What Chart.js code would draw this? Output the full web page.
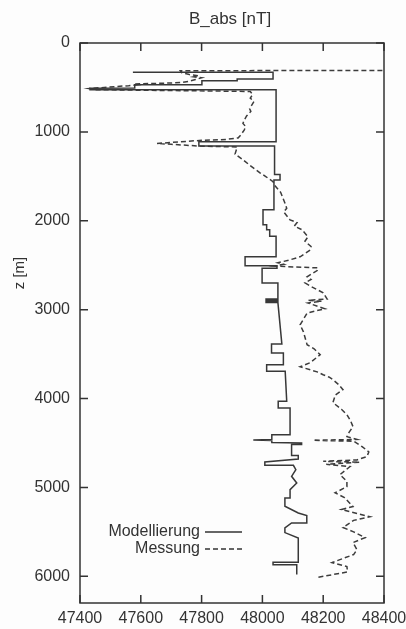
<!DOCTYPE html>
<html>
<head>
<meta charset="utf-8">
<script src="https://cdn.jsdelivr.net/npm/chart.js@4/dist/chart.umd.min.js"></script>
<style>
  html, body { margin: 0; padding: 0; background: #fdfdfd; }
  #wrap { width: 406px; height: 629px; }
</style>
</head>
<body>
<div id="wrap"><canvas id="grafica" width="406" height="629"></canvas></div>
<script>
// Modellierung (solid step profile): B [nT] vs depth z [m]
const modelB = [47574, 48035, 48035, 47917, 47917, 47801, 47801, 47580, 47580, 47433, 47433, 48045,
  48045, 47791, 47791, 48040, 48040, 48058, 48058, 48038, 48038, 48002, 48002, 48014, 48014, 48024,
  48024, 48045, 48045, 47943, 47943, 48048, 48048, 47999, 47999, 48051, 48051, 48012, 48012, 48051,
  48051, 48012, 48012, 48051, 48064, 48030, 48030, 48069, 48069, 48014, 48014, 48075, 48080, 48052,
  48052, 48091, 48091, 48031, 48031, 47970, 48031, 48031, 48129, 48129, 48096, 48096, 48118, 48118,
  48008, 48008, 48102, 48110, 48096, 48113, 48091, 48091, 48074, 48074, 48118, 48146, 48146, 48096,
  48074, 48074, 48118, 48118, 48035, 48035, 48113, 48113];
const modelZ = [330, 330, 405, 405, 425, 425, 470, 470, 505, 510, 525, 525,
  1110, 1110, 1160, 1160, 1480, 1480, 1540, 1540, 1875, 1875, 2045, 2045, 2100, 2100,
  2175, 2175, 2405, 2405, 2505, 2505, 2535, 2535, 2700, 2700, 2880, 2880, 2893, 2893,
  2905, 2905, 2920, 2920, 3387, 3387, 3488, 3488, 3619, 3619, 3694, 3694, 4031, 4031,
  4106, 4106, 4406, 4406, 4462, 4466, 4472, 4495, 4500, 4518, 4518, 4642, 4642, 4680,
  4713, 4751, 4751, 4800, 4875, 4950, 5025, 5118, 5118, 5212, 5287, 5317, 5399, 5399,
  5456, 5508, 5568, 5841, 5841, 5871, 5871, 5980];

// Messung (dashed measured profile)
const messB = [48500, 47730, 47735, 47760, 47790, 47775, 47800, 47780, 47760, 47735, 47650, 47580,
  47590, 47560, 47480, 47430, 47450, 47700, 47960, 47968, 47960, 47972, 47965, 47958, 47962, 47948,
  47940, 47936, 47945, 47940, 47930, 47920, 47880, 47800, 47653, 47700, 47795, 47917, 47910, 47935,
  47960, 47992, 48010, 48035, 48040, 48060, 48074, 48080, 48070, 48091, 48114, 48105, 48130, 48150,
  48140, 48160, 48157, 48124, 48090, 48051, 48070, 48040, 48183, 48180, 48147, 48160, 48140, 48160,
  48200, 48213, 48150, 48195, 48150, 48206, 48180, 48147, 48124, 48135, 48147, 48170, 48190, 48157,
  48124, 48180, 48200, 48220, 48232, 48250, 48265, 48240, 48232, 48260, 48278, 48290, 48298, 48285,
  48278, 48310, 48167, 48300, 48328, 48350, 48344, 48311, 48200, 48320, 48210, 48288, 48255, 48278,
  48278, 48239, 48270, 48298, 48260, 48354, 48300, 48265, 48300, 48338, 48298, 48311, 48300, 48229,
  48278, 48280, 48180];
const messZ = [308, 312, 335, 355, 370, 380, 392, 410, 430, 445, 455, 460,
  470, 480, 500, 512, 525, 535, 545, 580, 620, 660, 700, 740, 770, 820,
  870, 905, 940, 980, 1030, 1068, 1085, 1095, 1130, 1140, 1160, 1170, 1250, 1310,
  1380, 1460, 1500, 1560, 1600, 1680, 1800, 1860, 1900, 1990, 2020, 2060, 2100, 2180,
  2230, 2290, 2330, 2405, 2440, 2473, 2490, 2510, 2530, 2560, 2630, 2660, 2698, 2740,
  2810, 2880, 2895, 2905, 2925, 2990, 3010, 3040, 3170, 3250, 3394, 3440, 3507, 3597,
  3642, 3700, 3732, 3760, 3788, 3840, 3900, 3960, 4046, 4120, 4181, 4250, 4316, 4380,
  4428, 4460, 4470, 4480, 4541, 4600, 4653, 4690, 4706, 4716, 4740, 4766, 4856, 4930,
  4991, 5060, 5114, 5215, 5249, 5330, 5370, 5451, 5500, 5564, 5620, 5700, 5755, 5845,
  5890, 5950, 6013];

const xTicks = [47400, 47600, 47800, 48000, 48200, 48400];
const yTicks = [0, 1000, 2000, 3000, 4000, 5000, 6000];
const seriesNames = ["Modellierung", "Messung"];

const ink = "#333";
const font = "'Liberation Sans', Arial, sans-serif";

function pts(xs, ys) {
    return xs.map((x, i) => ({ x: x, y: ys[i] }));
}

// gnuplot-like frame, inward ticks, labels and key
const gnuplotLook = {
    id: "gnuplotLook",
    afterDraw(chart) {
        const c = chart.ctx;
        const a = chart.chartArea;
        const sx = chart.scales.x, sy = chart.scales.y;
        c.save();
        c.strokeStyle = ink;
        c.lineWidth = 1.5;
        c.strokeRect(a.left, a.top, a.right - a.left, a.bottom - a.top);
        c.beginPath();
        xTicks.forEach(v => {
            const p = sx.getPixelForValue(v);
            c.moveTo(p, a.bottom); c.lineTo(p, a.bottom - 8);
            c.moveTo(p, a.top); c.lineTo(p, a.top + 8);
        });
        yTicks.forEach(v => {
            const p = sy.getPixelForValue(v);
            c.moveTo(a.left, p); c.lineTo(a.left + 8, p);
            c.moveTo(a.right, p); c.lineTo(a.right - 8, p);
        });
        c.stroke();

        c.fillStyle = ink;
        c.font = "17px " + font;
        c.textAlign = "center";
        c.textBaseline = "middle";
        c.fillText("B_abs [nT]", (a.left + a.right) / 2 - 2, 19);

        c.save();
        c.translate(20, 273);
        c.rotate(-Math.PI / 2);
        c.font = "15px " + font;
        c.fillText("z [m]", 0, 0);
        c.restore();

        // key
        const kx = a.left + 120;
        const ky = [a.top + 489, a.top + 506];
        c.textAlign = "right";
        c.font = "16px " + font;
        seriesNames.forEach((name, i) => {
            c.fillText(name, kx, ky[i]);
            const ds = chart.data.datasets[i];
            c.beginPath();
            c.lineWidth = ds.borderWidth;
            c.setLineDash(ds.borderDash || []);
            c.moveTo(kx + 5, ky[i]);
            c.lineTo(kx + 42, ky[i]);
            c.stroke();
        });
        c.restore();
    }
};

const ctx = document.getElementById("grafica").getContext("2d");
const chart = new Chart(ctx, {
    type: "scatter",
    data: {
        datasets: [{
            label: seriesNames[0],
            data: pts(modelB, modelZ),
            showLine: true,
            borderColor: "#383838",
            borderWidth: 1.5,
            pointRadius: 0,
            tension: 0
        },
        {
            label: seriesNames[1],
            data: pts(messB, messZ),
            showLine: true,
            borderColor: "#3c3c3c",
            borderWidth: 1.5,
            borderDash: [5, 3],
            pointRadius: 0,
            tension: 0
        }]
    },
    options: {
        responsive: false,
        animation: false,
        devicePixelRatio: 1,
        layout: { padding: { top: 43, right: 22, bottom: 0, left: 0 } },
        plugins: {
            legend: { display: false },
            tooltip: { enabled: false }
        },
        scales: {
            x: {
                type: "linear",
                min: 47400,
                max: 48400,
                grid: { display: false, drawTicks: false },
                border: { display: false },
                afterBuildTicks: s => { s.ticks = xTicks.map(v => ({ value: v })); },
                ticks: {
                    color: ink, font: { family: font, size: 16 }, padding: 6, maxRotation: 0,
                    callback: v => String(v)
                },
                afterFit: s => { s.height = 26; s.paddingLeft = 0; s.paddingRight = 0; }
            },
            y: {
                type: "linear",
                reverse: true,
                min: 0,
                max: 6300,
                grid: { display: false, drawTicks: false },
                border: { display: false },
                afterBuildTicks: s => { s.ticks = yTicks.map(v => ({ value: v })); },
                ticks: {
                    color: ink, font: { family: font, size: 16 }, padding: 10,
                    callback: v => String(v)
                },
                afterFit: s => { s.width = 80; s.paddingTop = 0; s.paddingBottom = 0; }
            }
        }
    },
    plugins: [gnuplotLook]
});
</script>
</body>
</html>
